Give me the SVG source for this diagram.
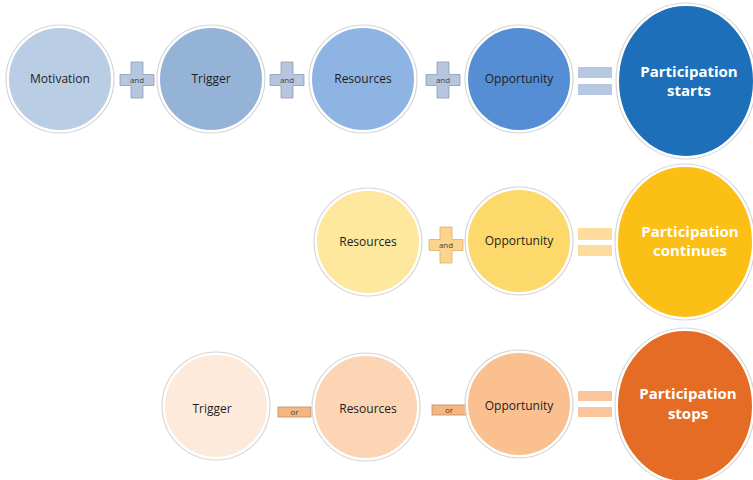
<svg xmlns="http://www.w3.org/2000/svg" width="753" height="480" viewBox="0 0 753 480">
<style>
.c{stroke:#ffffff;stroke-width:2}
.sh{fill:none;stroke:#d6d6d6;stroke-width:1.2}
.t{font-family:"Open Sans","Noto Sans",sans-serif;font-size:12px;fill:#1e1e1e;text-anchor:middle}
.b{font-family:"Open Sans","Noto Sans",sans-serif;font-size:15px;font-weight:bold;fill:#ffffff;text-anchor:middle}
.s{font-family:"Open Sans","Noto Sans",sans-serif;font-size:8px;fill:#404040;text-anchor:middle}
.pb{fill:#b6c6de;stroke:#8d9db6;stroke-width:0.8}
.py{fill:#fdd48c;stroke:#d8b070;stroke-width:0.8}
.eb{fill:#b6c8e2}
.ey{fill:#fddb9c}
.eo{fill:#fbc49c}
.or{fill:#f6b682;stroke:#c08a62;stroke-width:0.8}
</style>
<defs>
<path id="plus" d="M-6,-18 H6 V-5.5 H17 V5.5 H6 V18 H-6 V5.5 H-17 V-5.5 H-6 Z"/>
</defs>
<rect width="753" height="480" fill="#ffffff"/>

<g id="connectors">
  <use href="#plus" class="pb" x="137" y="80"/><text class="s" x="137" y="83">and</text>
  <use href="#plus" class="pb" x="287" y="80"/><text class="s" x="287" y="83">and</text>
  <use href="#plus" class="pb" x="443" y="80"/><text class="s" x="443" y="83">and</text>
  <rect class="eb" x="578" y="67" width="34" height="11"/>
  <rect class="eb" x="578" y="84" width="34" height="11"/>

  <use href="#plus" class="py" x="446" y="245"/><text class="s" x="446" y="248">and</text>
  <rect class="ey" x="578" y="228" width="34" height="12"/>
  <rect class="ey" x="578" y="245" width="34" height="11"/>

  <rect class="or" x="278" y="407" width="33" height="10"/><text class="s" x="294.5" y="415">or</text>
  <rect class="or" x="432" y="405" width="34" height="10"/><text class="s" x="449" y="413">or</text>
  <rect class="eo" x="578" y="391" width="34" height="10"/>
  <rect class="eo" x="578" y="407" width="34" height="10"/>
</g>

<g id="motivation1"><circle class="sh" cx="60" cy="79" r="54"/><circle class="c" cx="60" cy="79" r="52" fill="#b9cde5"/><text class="t" x="60" y="83">Motivation</text></g>
<g id="trigger1"><circle class="sh" cx="211" cy="79" r="54"/><circle class="c" cx="211" cy="79" r="52" fill="#95b3d7"/><text class="t" x="211" y="83">Trigger</text></g>
<g id="resources1"><circle class="sh" cx="363" cy="79" r="54"/><circle class="c" cx="363" cy="79" r="52" fill="#8eb4e3"/><text class="t" x="363" y="83">Resources</text></g>
<g id="opportunity1"><circle class="sh" cx="519" cy="79" r="54"/><circle class="c" cx="519" cy="79" r="52" fill="#558ed5"/><text class="t" x="519" y="83">Opportunity</text></g>
<g id="starts"><ellipse class="sh" cx="686" cy="81" rx="70" ry="78"/><ellipse class="c" cx="686" cy="81" rx="68" ry="76" fill="#1c6fb8"/><text class="b" x="689" y="77">Participation</text><text class="b" x="689" y="96">starts</text></g>

<g id="resources2"><circle class="sh" cx="368" cy="242" r="54"/><circle class="c" cx="368" cy="242" r="52" fill="#fde89e"/><text class="t" x="368" y="246">Resources</text></g>
<g id="opportunity2"><circle class="sh" cx="519" cy="241" r="54"/><circle class="c" cx="519" cy="241" r="52" fill="#fcd96a"/><text class="t" x="519" y="245">Opportunity</text></g>
<g id="continues"><ellipse class="sh" cx="685" cy="242" rx="70" ry="78"/><ellipse class="c" cx="685" cy="242" rx="68" ry="76" fill="#fcbf15"/><text class="b" x="690" y="237">Participation</text><text class="b" x="690" y="256">continues</text></g>

<g id="trigger3"><circle class="sh" cx="216" cy="406" r="54"/><circle class="c" cx="216" cy="406" r="52" fill="#fdeada"/><text class="t" x="212" y="413">Trigger</text></g>
<g id="resources3"><circle class="sh" cx="366" cy="407" r="54"/><circle class="c" cx="366" cy="407" r="52" fill="#fcd5b4"/><text class="t" x="368" y="413">Resources</text></g>
<g id="opportunity3"><circle class="sh" cx="519" cy="404" r="54"/><circle class="c" cx="519" cy="404" r="52" fill="#fac090"/><text class="t" x="519" y="410">Opportunity</text></g>
<g id="stops"><ellipse class="sh" cx="685" cy="406" rx="70" ry="78"/><ellipse class="c" cx="685" cy="406" rx="68" ry="76" fill="#e46c24"/><text class="b" x="688" y="399">Participation</text><text class="b" x="688" y="419">stops</text></g>
</svg>
